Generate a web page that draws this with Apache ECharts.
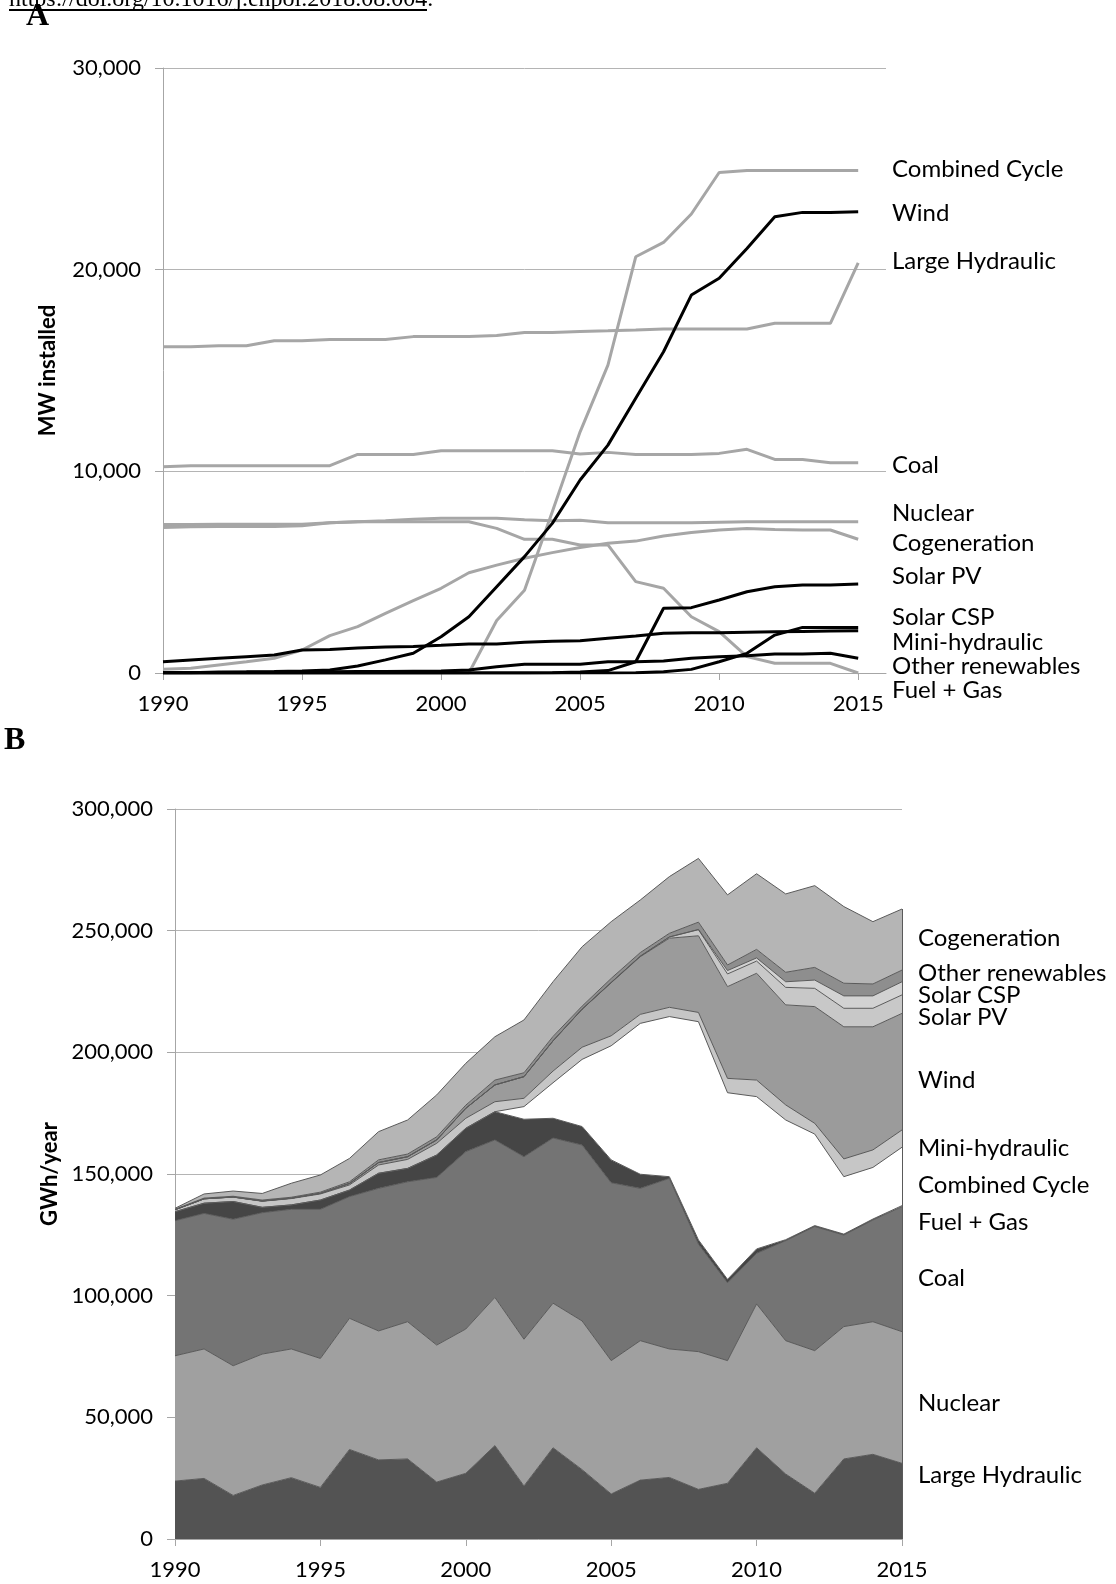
<!DOCTYPE html>
<html>
<head>
<meta charset="utf-8">
<script src="https://cdn.jsdelivr.net/npm/echarts@6/dist/echarts.min.js"></script>
<style>
html, body { margin: 0; background: #fff; }
#main { width: 1116px; height: 1584px; }
</style>
</head>
<body>
<div id="main"></div>
<script>
// years shared by both panels
const years = [1990, 1991, 1992, 1993, 1994, 1995, 1996, 1997, 1998, 1999, 2000, 2001, 2002,
    2003, 2004, 2005, 2006, 2007, 2008, 2009, 2010, 2011, 2012, 2013, 2014, 2015]
const yearTicks = [1990, 1995, 2000, 2005, 2010, 2015]

// panel A, MW installed
const combinedCycleMW = [0, 0, 0, 0, 0, 0, 0, 0, 0, 0, 0, 0, 2600, 4100, 8000, 11960, 15270, 20640, 21350, 22760, 24820, 24920, 24920, 24920, 24920, 24920]
const windMW = [7, 7, 50, 60, 75, 100, 150, 350, 650, 980, 1800, 2790, 4280, 5770, 7420, 9570, 11300, 13620, 15930, 18740, 19570, 21050, 22620, 22840, 22840, 22870]
const largeHydroMW = [16180, 16180, 16230, 16230, 16480, 16480, 16540, 16540, 16540, 16680, 16680, 16680, 16730, 16880, 16880, 16940, 16970, 17010, 17060, 17060, 17060, 17060, 17340, 17340, 17340, 20340]
const coalMW = [10230, 10280, 10280, 10280, 10280, 10280, 10280, 10840, 10840, 10840, 11020, 11020, 11020, 11020, 11020, 10860, 10940, 10840, 10840, 10840, 10890, 11090, 10590, 10590, 10430, 10430]
const nuclearMW = [7360, 7360, 7380, 7380, 7380, 7380, 7450, 7500, 7550, 7620, 7670, 7670, 7670, 7600, 7550, 7580, 7450, 7450, 7450, 7450, 7480, 7500, 7500, 7500, 7500, 7500]
const cogenerationMW = [180, 230, 400, 560, 730, 1140, 1850, 2300, 2960, 3590, 4200, 4970, 5350, 5690, 5970, 6220, 6430, 6540, 6790, 6970, 7090, 7170, 7120, 7090, 7090, 6630]
const solarPvMW = [0, 0, 0, 0, 0, 0, 0, 0, 0, 0, 0, 0, 0, 0, 10, 50, 120, 560, 3210, 3240, 3620, 4030, 4280, 4360, 4360, 4410]
const solarCspMW = [0, 0, 0, 0, 0, 0, 0, 0, 0, 0, 0, 0, 0, 0, 0, 0, 0, 10, 60, 180, 560, 975, 1880, 2260, 2260, 2260]
const miniHydroMW = [560, 645, 730, 810, 890, 1140, 1170, 1240, 1290, 1320, 1370, 1440, 1440, 1520, 1570, 1600, 1720, 1830, 1970, 2000, 2000, 2020, 2040, 2060, 2080, 2100]
const otherRenMW = [20, 25, 30, 35, 40, 50, 60, 70, 80, 90, 100, 150, 315, 430, 430, 430, 560, 560, 595, 727, 810, 860, 942, 942, 975, 727]
const fuelGasMW = [7220, 7250, 7270, 7270, 7270, 7300, 7450, 7500, 7500, 7500, 7500, 7500, 7170, 6630, 6630, 6350, 6350, 4530, 4200, 2790, 2050, 810, 480, 480, 480, 0]

// panel B, GWh/year (stacked, bottom to top)
const largeHydroGWh = [23800, 24900, 17900, 22200, 25200, 21200, 36800, 32500, 32900, 23400, 27000, 38400, 21800, 37500, 28500, 18500, 24200, 25300, 20400, 22900, 37500, 26700, 18800, 32900, 34800, 31100]
const nuclearGWh = [51500, 53200, 53300, 53800, 52900, 53000, 53900, 53000, 56400, 56300, 59300, 60900, 60300, 59400, 61100, 54800, 57300, 52800, 56600, 50400, 59100, 54800, 58600, 54400, 54500, 54100]
const coalGWh = [55500, 55700, 60200, 58100, 57400, 61300, 50000, 58600, 57500, 68900, 72900, 64700, 75000, 67900, 72300, 73100, 62600, 70100, 44200, 32000, 20800, 41100, 51000, 37600, 41800, 51400]
const fuelGasGWh = [3700, 4200, 7300, 2200, 1800, 3800, 2700, 6200, 5500, 9200, 9600, 11600, 15400, 8100, 7600, 9400, 5800, 700, 1700, 1400, 1800, 400, 400, 400, 400, 400]
const combinedCycleGWh = [0, 0, 0, 0, 0, 0, 0, 0, 0, 0, 0, 0, 5200, 14600, 27600, 46900, 62000, 65800, 89700, 76700, 62600, 49200, 37600, 23600, 21200, 24000]
const miniHydroGWh = [800, 1800, 1800, 2500, 2600, 2500, 2100, 3400, 3700, 4800, 4100, 4100, 3400, 4800, 5000, 4100, 3700, 3800, 3800, 5900, 6800, 6200, 4400, 7300, 7200, 7100]
const windGWh = [0, 0, 50, 100, 150, 250, 600, 1000, 1100, 1400, 4100, 6900, 8900, 12400, 15600, 21800, 23700, 28400, 31500, 37700, 43900, 41100, 48000, 54300, 50600, 47900]
const solarPvGWh = [0, 0, 0, 0, 0, 0, 0, 0, 0, 0, 0, 0, 0, 30, 50, 100, 200, 500, 2500, 5200, 5000, 7200, 7500, 7600, 7600, 7600]
const solarCspGWh = [0, 0, 0, 0, 0, 0, 0, 0, 0, 0, 0, 0, 0, 0, 0, 0, 0, 10, 100, 1400, 1300, 2300, 3400, 5100, 5100, 5400]
const otherRenGWh = [200, 300, 300, 400, 400, 500, 700, 1100, 1100, 1300, 1300, 2000, 1600, 1800, 1250, 1700, 1500, 1500, 3000, 2300, 3500, 3900, 5200, 5200, 4900, 4800]
const cogenerationGWh = [400, 1700, 2150, 2700, 5750, 7050, 9600, 11600, 14000, 17200, 17200, 17800, 21700, 22500, 24400, 23300, 21600, 23300, 26200, 28800, 31100, 32200, 33600, 31500, 25600, 25100]

const chart = echarts.init(document.getElementById('main'))
const font = 'Lato, sans-serif'
const gray = '#a6a6a6'
const pairs = arr => years.map((y, i) => [y, arr[i]])
const fmt = v => v.toLocaleString('en-US')

// panel A lines: [name, data, colour]
const linesA = [
    ['Combined Cycle', combinedCycleMW, gray],
    ['Large Hydraulic', largeHydroMW, gray],
    ['Coal', coalMW, gray],
    ['Nuclear', nuclearMW, gray],
    ['Cogeneration', cogenerationMW, gray],
    ['Fuel + Gas', fuelGasMW, gray],
    ['Wind', windMW, '#000'],
    ['Solar PV', solarPvMW, '#000'],
    ['Solar CSP', solarCspMW, '#000'],
    ['Mini-hydraulic', miniHydroMW, '#000'],
    ['Other renewables', otherRenMW, '#000']
]
// panel B areas, bottom to top
const areasB = [
    ['Large Hydraulic', largeHydroGWh, '#535353'],
    ['Nuclear', nuclearGWh, '#a0a0a0'],
    ['Coal', coalGWh, '#747474'],
    ['Fuel + Gas', fuelGasGWh, '#454545'],
    ['Combined Cycle', combinedCycleGWh, '#ffffff'],
    ['Mini-hydraulic', miniHydroGWh, '#c6c6c6'],
    ['Wind', windGWh, '#9b9b9b'],
    ['Solar PV', solarPvGWh, '#c8c8c8'],
    ['Solar CSP', solarCspGWh, '#d2d2d2'],
    ['Other renewables', otherRenGWh, '#8e8e8e'],
    ['Cogeneration', cogenerationGWh, '#b5b5b5']
]
const total2015 = areasB.reduce((s, a) => s + a[1][a[1].length - 1], 0)

// label layout at the right of each panel
const labelsA = [
    ['Combined Cycle', 169], ['Wind', 213], ['Large Hydraulic', 261], ['Coal', 465],
    ['Nuclear', 513], ['Cogeneration', 543], ['Solar PV', 576], ['Solar CSP', 617],
    ['Mini-hydraulic', 642], ['Other renewables', 666], ['Fuel + Gas', 690]
]
const labelsB = [
    ['Cogeneration', 938], ['Other renewables', 973], ['Solar CSP', 995], ['Solar PV', 1017],
    ['Wind', 1080], ['Mini-hydraulic', 1148], ['Combined Cycle', 1185], ['Fuel + Gas', 1222],
    ['Coal', 1278], ['Nuclear', 1403], ['Large Hydraulic', 1475]
]

const axisLineGray = { show: true, lineStyle: { color: gray, width: 1 } }
const tickLabel = { color: '#000', fontSize: 22, fontFamily: font }
const yAxisBase = {
    type: 'value',
    min: 0,
    axisLine: axisLineGray,
    axisTick: { show: true, length: 8, lineStyle: { color: gray } },
    axisLabel: { ...tickLabel, margin: 22, formatter: fmt },
    splitLine: { show: true, lineStyle: { color: '#b4b4b4', width: 1 } },
    nameLocation: 'middle',
    nameRotate: 90,
    nameTextStyle: { fontSize: 22, fontWeight: 'bold', fontFamily: font, color: '#000' }
}

const textEl = (text, x, y, size) => ({
    type: 'text', x, y,
    style: { text, fill: '#000', font: size + 'px ' + font, verticalAlign: 'middle' }
})

const option = {
    animation: false,
    backgroundColor: '#fff',
    grid: [
        { left: 163, right: 230, top: 68, bottom: 911 },
        { left: 175, right: 214, top: 809, bottom: 45 }
    ],
    xAxis: [
        {
            type: 'value',
            gridIndex: 0,
            min: 1990,
            max: 2016,
            axisLine: axisLineGray,
            axisTick: { show: true, length: 7, lineStyle: { color: gray }, customValues: yearTicks },
            axisLabel: { ...tickLabel, margin: 20, customValues: yearTicks, formatter: v => String(v) },
            splitLine: { show: false }
        },
        {
            type: 'category',
            gridIndex: 1,
            data: years.map(String),
            boundaryGap: false,
            axisLine: axisLineGray,
            axisTick: { show: true, length: 7, interval: 4, lineStyle: { color: gray } },
            axisLabel: { ...tickLabel, margin: 20, interval: 4 },
            splitLine: { show: false }
        }
    ],
    yAxis: [
        { ...yAxisBase, gridIndex: 0, max: 30000, interval: 10000, name: 'MW installed', nameGap: 104 },
        { ...yAxisBase, gridIndex: 1, max: 300000, interval: 50000, name: 'GWh/year', nameGap: 113 }
    ],
    series: [
        ...linesA.map(([name, data, color]) => ({
            name,
            type: 'line',
            xAxisIndex: 0,
            yAxisIndex: 0,
            data: pairs(data),
            symbol: 'none',
            lineStyle: { color, width: 3 },
            z: color === gray ? 2 : 3
        })),
        ...areasB.map(([name, data, color], i) => ({
            name,
            type: 'line',
            xAxisIndex: 1,
            yAxisIndex: 1,
            stack: 'gen',
            data,
            symbol: 'none',
            lineStyle: { color: '#5a5a5a', width: 1 },
            areaStyle: { color, opacity: 1 },
            markLine: i === areasB.length - 1 ? {
                silent: true,
                symbol: 'none',
                label: { show: false },
                lineStyle: { color: '#5a5a5a', width: 1, type: 'solid' },
                data: [[{ coord: ['2015', 0] }, { coord: ['2015', total2015] }]]
            } : undefined
        }))
    ],
    graphic: [
        {
            type: 'text', x: 9, y: 12,
            style: { text: 'https://doi.org/10.1016/j.enpol.2018.08.004.', fill: '#000', font: '24px "Liberation Serif", serif', verticalAlign: 'bottom' }
        },
        { type: 'rect', shape: { x: 9, y: 9, width: 418, height: 2 }, style: { fill: '#000' } },
        { type: 'text', x: 26, y: 33, style: { text: 'A', fill: '#000', font: 'bold 32px "Liberation Serif", serif', verticalAlign: 'bottom' } },
        { type: 'text', x: 4, y: 757, style: { text: 'B', fill: '#000', font: 'bold 32px "Liberation Serif", serif', verticalAlign: 'bottom' } },
        ...labelsA.map(([t, y]) => textEl(t, 892, y, 24)),
        ...labelsB.map(([t, y]) => textEl(t, 918, y, 24))
    ]
}
chart.setOption(option)
</script>
</body>
</html>
